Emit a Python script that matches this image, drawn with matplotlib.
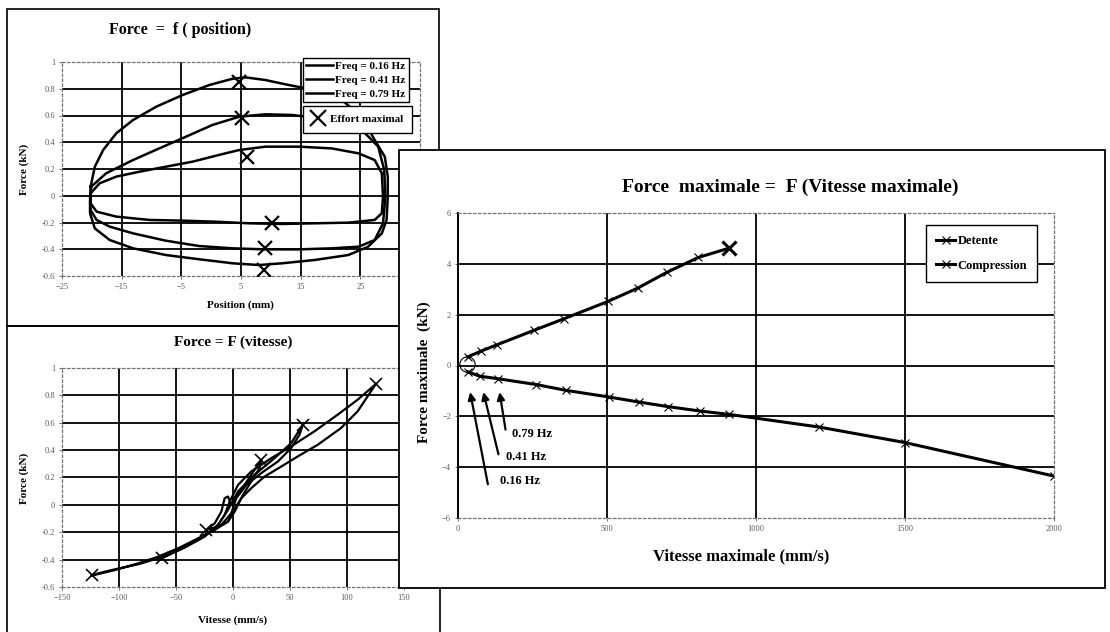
import numpy as np
import matplotlib.pyplot as plt
from matplotlib.patches import Rectangle

plt.rcParams['font.family'] = ['Liberation Serif', 'DejaVu Serif']

# ---------------- Force = f(position) : boucles par fréquence
pos_016 = [-20.2, -18.7, -15.9, -12.0, -7.6, -3.1, 1.3, 4.7, 9.1, 14.7, 20.2, 24.7, 27.4, 28.6, 28.8,
           28.6, 27.4, 23.0, 17.4, 11.9, 6.3, 0.8, -4.8, -10.3, -15.9, -19.2, -20.2, -20.2]
f_pos_016 = [0.018, 0.093, 0.143, 0.180, 0.217, 0.255, 0.305, 0.342, 0.367, 0.367, 0.354, 0.317, 0.267, 0.168, -0.007,
             -0.131, -0.181, -0.201, -0.206, -0.211, -0.206, -0.194, -0.186, -0.181, -0.156, -0.119, -0.057, 0.018]
pos_041 = [-20.1, -17.6, -13.1, -8.7, -4.2, 0.2, 4.7, 9.1, 13.6, 18.0, 22.4, 25.8, 28.0, 29.0, 29.2, 28.8, 27.4,
           24.7, 20.2, 14.7, 9.1, 3.6, -2.0, -7.6, -13.1, -17.0, -19.2, -20.2, -20.2, -20.1]
f_pos_041 = [0.068, 0.168, 0.267, 0.354, 0.442, 0.529, 0.591, 0.609, 0.604, 0.579, 0.541, 0.467, 0.367, 0.193, -0.007, -0.206, -0.331,
             -0.381, -0.393, -0.401, -0.401, -0.393, -0.376, -0.336, -0.281, -0.231, -0.181, -0.107, -0.007, 0.068]
pos_079 = [-20.2, -19.5, -18.1, -15.9, -13.1, -9.2, -4.8, -0.3, 3.6, 5.8, 9.1, 13.0, 17.4, 21.9, 25.2, 27.4, 29.1, 29.6, 29.6,
           29.4, 28.6, 26.3, 23.0, 17.4, 11.9, 8.0, 3.6, -2.0, -7.6, -13.1, -17.0, -19.5, -20.3, -20.3, -20.2]
f_pos_079 = [0.068, 0.217, 0.342, 0.467, 0.566, 0.666, 0.753, 0.828, 0.875, 0.885, 0.865, 0.828, 0.790, 0.716, 0.591, 0.417, 0.292, 0.143, -0.007,
             -0.181, -0.281, -0.381, -0.443, -0.480, -0.505, -0.518, -0.505, -0.475, -0.443, -0.393, -0.331, -0.244, -0.131, -0.032, 0.068]
pos_effort = [4.7, 5.2, 6.0, 10.2, 9.1, 8.8]
f_effort = [0.853, 0.579, 0.292, -0.206, -0.393, -0.555]

# ---------------- Force = F(vitesse)
vit_016 = [-23.3, -16.0, -10.2, -7.3, -4.4, -1.5, 4.4, 16.0, 24.8, 23.3, 16.0, 8.7, 1.5, -4.4, -13.1, -23.3]
f_vit_016 = [-0.183, -0.134, -0.049, 0.049, 0.061, 0.0, 0.073, 0.220, 0.329, 0.268, 0.171, 0.073, -0.049, -0.122, -0.159, -0.183]
vit_041 = [-62.7, -42.3, -24.8, -13.1, -4.4, 4.4, 18.9, 36.4, 51.0, 61.2, 58.3, 51.0, 39.4, 24.8, 11.7, 2.9, -1.5, -10.2,
           -21.9, -39.4, -62.7]
f_vit_041 = [-0.390, -0.312, -0.232, -0.146, -0.037, 0.098, 0.220, 0.341, 0.451, 0.585, 0.512, 0.415, 0.317, 0.232, 0.146, 0.049, -0.061, -0.146,
             -0.207, -0.293, -0.390]
vit_079 = [-123.9, -106.4, -83.1, -65.6, -48.1, -33.5, -21.9, -13.1, -7.3, -2.9, 4.4, 16.0, 33.5, 51.0, 71.4, 91.8, 109.3, 125.3,
           121.0, 109.3, 94.7, 74.3, 56.8, 42.3, 27.7, 16.0, 7.3, 0.0, -4.4, -16.0, -30.6, -48.1, -65.6, -83.1, -103.5, -123.9]
f_vit_079 = [-0.512, -0.476, -0.434, -0.390, -0.329, -0.268, -0.207, -0.146, -0.073, 0.024, 0.146, 0.244, 0.341, 0.427, 0.537, 0.659, 0.768, 0.883,
             0.829, 0.683, 0.561, 0.439, 0.354, 0.280, 0.207, 0.122, 0.049, -0.049, -0.122, -0.183, -0.244, -0.317, -0.378, -0.427, -0.476, -0.517]
vit_ext = [-123.9, -62.7, -23.3, 24.8, 61.2, 125.3]
f_vit_ext = [-0.512, -0.390, -0.183, 0.329, 0.585, 0.883]

# ---------------- Force maximale = F(Vitesse maximale)
vmax_det = [33, 76, 132, 254, 356, 503, 604, 700, 806, 908]
fmax_det = [0.34, 0.56, 0.82, 1.38, 1.84, 2.52, 3.05, 3.66, 4.25, 4.61]
vmax_comp = [33, 73, 134, 263, 363, 507, 608, 706, 811, 908, 1211, 1499, 2000]
fmax_comp = [-0.25, -0.42, -0.52, -0.75, -0.98, -1.24, -1.44, -1.62, -1.79, -1.92, -2.42, -3.03, -4.35]
freq_labels = ['0.16 Hz', '0.41 Hz', '0.79 Hz']

W, H = 1110, 632


def box(x0, y0, x1, y1):
    return [x0 / W, 1 - y1 / H, (x1 - x0) / W, (y1 - y0) / H]


def px(x, y):
    return x / W, 1 - y / H


def style(ax, xt, yt, solid_left=False):
    ax.set_xticks(xt)
    ax.set_yticks(yt)
    for s in ax.spines.values():
        s.set_linestyle((0, (2, 2)))
        s.set_color('0.45')
        s.set_linewidth(0.9)
    if solid_left:
        ax.spines['left'].set_linestyle('-')
        ax.spines['left'].set_color('black')
        ax.spines['left'].set_linewidth(1.4)
    x0, x1 = ax.get_xlim()
    y0, y1 = ax.get_ylim()
    for v in xt:
        if x0 < v < x1:
            ax.axvline(v, color='black', lw=1.3, zorder=0.5)
    for v in yt:
        if y0 < v < y1:
            ax.axhline(v, color='black', lw=1.3, zorder=0.5)
    ax.tick_params(length=2, width=0.6, labelsize=6, colors='0.35', pad=3)


fig = plt.figure(figsize=(11.1, 6.32), dpi=100)

# cadres des graphiques de gauche
fig.add_artist(Rectangle(px(7, 326), 432 / W, 317 / H, transform=fig.transFigure,
                         fill=False, edgecolor='black', lw=1.2, zorder=1.5))
fig.add_artist(Rectangle(px(7, 700), 433 / W, 374 / H, transform=fig.transFigure,
                         fill=False, edgecolor='black', lw=1.2, zorder=1.5))

# ----- Force = f(position)
ax1 = fig.add_axes(box(62, 62, 420, 276), zorder=1)
ax1.set_xlim(-25, 35)
ax1.set_ylim(-0.6, 1.0)
style(ax1, [-25, -15, -5, 5, 15, 25], [-0.6, -0.4, -0.2, 0, 0.2, 0.4, 0.6, 0.8, 1.0])
ax1.set_yticklabels(['-0.6', '-0.4', '-0.2', '0', '0.2', '0.4', '0.6', '0.8', '1'])
l1, = ax1.plot(pos_016, f_pos_016, color='black', lw=1.8)
l2, = ax1.plot(pos_041, f_pos_041, color='black', lw=1.8)
l3, = ax1.plot(pos_079, f_pos_079, color='black', lw=1.8)
m1, = ax1.plot(pos_effort, f_effort, 'x', color='black', ms=10, mew=1.6, zorder=4)
fig.text(*px(180, 30), 'Force  =  f ( position)', ha='center', va='center', fontsize=11.5, fontweight='bold')
fig.text(*px(240, 305), 'Position (mm)', ha='center', va='center', fontsize=8, fontweight='bold')
fig.text(*px(24, 169), 'Force (kN)', ha='center', va='center', fontsize=8, fontweight='bold', rotation=90)
leg1 = ax1.legend([l1, l2, l3], ['Freq = 0.16 Hz', 'Freq = 0.41 Hz', 'Freq = 0.79 Hz'],
                  loc='upper left', bbox_to_anchor=px(297, 52), bbox_transform=fig.transFigure,
                  fancybox=False, framealpha=1, edgecolor='black', prop={'size': 8, 'weight': 'bold'},
                  handlelength=2.4, handletextpad=0.2, labelspacing=0.35, borderpad=0.35)
leg1.get_frame().set_linewidth(1.0)
ax1.add_artist(leg1)
leg2 = ax1.legend([m1], ['Effort maximal'], loc='upper left', bbox_to_anchor=px(297, 100),
                  bbox_transform=fig.transFigure, fancybox=False, framealpha=1, edgecolor='black',
                  prop={'size': 8, 'weight': 'bold'}, handlelength=1.2, handletextpad=0.5,
                  borderpad=0.8, markerscale=1.1)
leg2.get_frame().set_linewidth(1.0)

# ----- Force = F(vitesse)
ax2 = fig.add_axes(box(62, 368, 404, 587), zorder=1)
ax2.set_xlim(-150, 150)
ax2.set_ylim(-0.6, 1.0)
style(ax2, [-150, -100, -50, 0, 50, 100, 150], [-0.6, -0.4, -0.2, 0, 0.2, 0.4, 0.6, 0.8, 1.0])
ax2.set_yticklabels(['-0.6', '-0.4', '-0.2', '0', '0.2', '0.4', '0.6', '0.8', '1'])
ax2.plot(vit_016, f_vit_016, color='black', lw=1.6)
ax2.plot(vit_041, f_vit_041, color='black', lw=1.6)
ax2.plot(vit_079, f_vit_079, color='black', lw=1.6)
ax2.plot(vit_ext, f_vit_ext, 'x', color='black', ms=8, mew=1.2)
fig.text(*px(233, 342), 'Force = F (vitesse)', ha='center', va='center', fontsize=11, fontweight='bold')
fig.text(*px(233, 620), 'Vitesse (mm/s)', ha='center', va='center', fontsize=8, fontweight='bold')
fig.text(*px(24, 478), 'Force (kN)', ha='center', va='center', fontsize=8, fontweight='bold', rotation=90)

# ----- Force maximale = F(Vitesse maximale)
fig.add_artist(Rectangle(px(399, 588), (1105 - 399) / W, (588 - 150) / H, transform=fig.transFigure,
                         facecolor='white', edgecolor='black', lw=1.3, zorder=2))
ax3 = fig.add_axes(box(458, 213, 1054, 518), zorder=3)
ax3.patch.set_alpha(0)
ax3.set_xlim(0, 2000)
ax3.set_ylim(-6, 6)
style(ax3, [0, 500, 1000, 1500, 2000], [-6, -4, -2, 0, 2, 4, 6], solid_left=True)
ld, = ax3.plot(vmax_det, fmax_det, color='black', lw=2.2, marker='x', ms=6, mew=0.8)
lc, = ax3.plot(vmax_comp, fmax_comp, color='black', lw=2.2, marker='x', ms=6, mew=0.8)
ax3.plot(vmax_det[-1:], fmax_det[-1:], 'x', color='black', ms=10, mew=2.2)
ax3.plot([30], [0.05], 'o', ms=11, mfc='none', mec='black', mew=0.8)
leg3 = ax3.legend([ld, lc], ['Detente', 'Compression'], loc='upper left', bbox_to_anchor=px(920, 219),
                  bbox_transform=fig.transFigure, fancybox=False, framealpha=1, edgecolor='black',
                  prop={'size': 9, 'weight': 'bold'}, handlelength=1.5, handletextpad=0.2,
                  labelspacing=1.0, borderpad=0.8)
leg3.get_frame().set_linewidth(1.0)
tips = [(39, -0.94), (83, -0.94), (138, -0.94)]
tails = [(102, -4.78), (138, -3.6), (161, -2.63)]
txt_pos = [(140, -4.55), (160, -3.6), (180, -2.7)]
for lab, tip, tail, tp in zip(freq_labels, tips, tails, txt_pos):
    ax3.annotate('', xy=tip, xytext=tail,
                 arrowprops=dict(arrowstyle='-|>', color='black', lw=1.6, mutation_scale=11))
    ax3.text(tp[0], tp[1], lab, fontsize=9, fontweight='bold', va='center', ha='left')
fig.text(*px(622, 187), 'Force  maximale =  F (Vitesse maximale)', ha='left', va='center',
         fontsize=14, fontweight='bold', zorder=4)
fig.text(*px(741, 556), 'Vitesse maximale (mm/s)', ha='center', va='center', fontsize=12,
         fontweight='bold', zorder=4)
fig.text(*px(424, 372), 'Force maximale  (kN)', ha='center', va='center', fontsize=11,
         fontweight='bold', rotation=90, zorder=4)

plt.savefig('out.png', dpi=100)
